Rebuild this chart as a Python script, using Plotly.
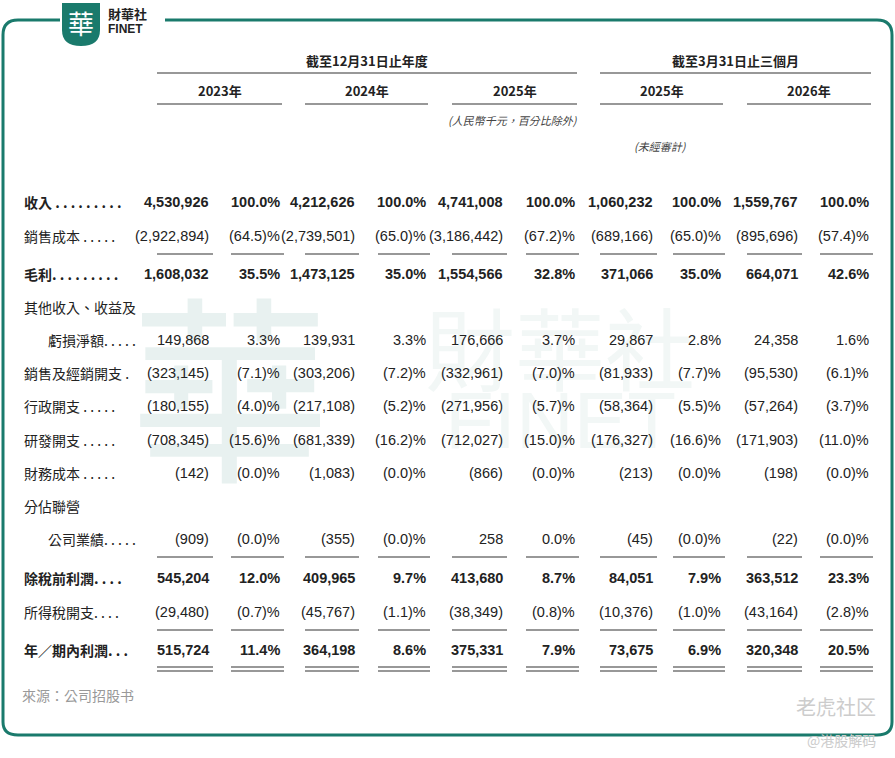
import plotly.graph_objects as go

labels = ["收入 . . . . . . . . .", "銷售成本 . . . . .", "毛利. . . . . . . . .", "其他收入、收益及",
          "虧損淨額. . . . .", "銷售及經銷開支 .", "行政開支 . . . . .", "研發開支 . . . . .",
          "財務成本 . . . . .", "分佔聯營", "公司業績. . . . .", "除稅前利潤. . . .",
          "所得稅開支. . . .", "年／期內利潤. . ."]
indent = [0, 0, 0, 0, 1, 0, 0, 0, 0, 0, 1, 0, 0, 0]
bold = [1, 0, 1, 0, 0, 0, 0, 0, 0, 0, 0, 1, 0, 1]
v2023 = ["4,530,926", "(2,922,894)", "1,608,032", "", "149,868", "(323,145)", "(180,155)", "(708,345)", "(142)", "", "(909)", "545,204", "(29,480)", "515,724"]
p2023 = ["100.0%", "(64.5)%", "35.5%", "", "3.3%", "(7.1)%", "(4.0)%", "(15.6)%", "(0.0)%", "", "(0.0)%", "12.0%", "(0.7)%", "11.4%"]
v2024 = ["4,212,626", "(2,739,501)", "1,473,125", "", "139,931", "(303,206)", "(217,108)", "(681,339)", "(1,083)", "", "(355)", "409,965", "(45,767)", "364,198"]
p2024 = ["100.0%", "(65.0)%", "35.0%", "", "3.3%", "(7.2)%", "(5.2)%", "(16.2)%", "(0.0)%", "", "(0.0)%", "9.7%", "(1.1)%", "8.6%"]
v2025 = ["4,741,008", "(3,186,442)", "1,554,566", "", "176,666", "(332,961)", "(271,956)", "(712,027)", "(866)", "", "258", "413,680", "(38,349)", "375,331"]
p2025 = ["100.0%", "(67.2)%", "32.8%", "", "3.7%", "(7.0)%", "(5.7)%", "(15.0)%", "(0.0)%", "", "0.0%", "8.7%", "(0.8)%", "7.9%"]
v2025q = ["1,060,232", "(689,166)", "371,066", "", "29,867", "(81,933)", "(58,364)", "(176,327)", "(213)", "", "(45)", "84,051", "(10,376)", "73,675"]
p2025q = ["100.0%", "(65.0)%", "35.0%", "", "2.8%", "(7.7)%", "(5.5)%", "(16.6)%", "(0.0)%", "", "(0.0)%", "7.9%", "(1.0)%", "6.9%"]
v2026q = ["1,559,767", "(895,696)", "664,071", "", "24,358", "(95,530)", "(57,264)", "(171,903)", "(198)", "", "(22)", "363,512", "(43,164)", "320,348"]
p2026q = ["100.0%", "(57.4)%", "42.6%", "", "1.6%", "(6.1)%", "(3.7)%", "(11.0)%", "(0.0)%", "", "(0.0)%", "23.3%", "(2.8)%", "20.5%"]
years = ["2023年", "2024年", "2025年", "2025年", "2026年"]
groups = ["截至12月31日止年度", "截至3月31日止三個月"]

F = "Liberation Sans, Arial, sans-serif"
CJK = "Noto Sans CJK TC, sans-serif"
TXT = "#222"
row_y = [202, 236, 274, 307, 340, 373, 406, 440, 473, 506, 539, 578, 612, 650]
col_sets = [v2023, p2023, v2024, p2024, v2025, p2025, v2025q, p2025q, v2026q, p2026q]
col_right = [211, 282, 357, 428, 505, 577, 655, 723, 800, 871]
col_left = [157, 231, 305, 378, 452, 526, 600, 673, 747, 820]

fig = go.Figure()
ann = []
shapes = []

def line(x0, x1, y, w=1.2, c="#333"):
    shapes.append(dict(type="line", x0=x0, x1=x1, y0=y, y1=y, line=dict(color=c, width=w)))

def nfont(size, color=TXT):
    return dict(family=F, size=size, color=color)

shapes.append(dict(type="path", path="M 60 20 L 18 20 Q 3 20 3 35 L 3 722 Q 3 735 18 735 L 877 735 Q 892 735 892 722 L 892 35 Q 892 20 877 20 L 165 20",
                   line=dict(color="#1a7a6c", width=3)))
shapes.append(dict(type="path", path="M 62 3 L 100 3 L 100 30 Q 100 46 81 46 Q 62 46 62 30 Z",
                   fillcolor="#1a7a6c", line=dict(width=0)))
ann.append(dict(x=81, y=22, text="華", font=dict(family=CJK, size=26, color="white"), showarrow=False))
ann.append(dict(x=106, y=13, text="<b>財華社</b>", xanchor="left", font=dict(family=CJK, size=13, color="#222"), showarrow=False))
ann.append(dict(x=106, y=29, text="<b>FINET</b>", xanchor="left", font=dict(family="Liberation Sans", size=12, color="#222"), showarrow=False))
ann.append(dict(x=230, y=380, text="華", font=dict(family=CJK, size=200, color="rgba(26,122,108,0.10)"), showarrow=False))
ann.append(dict(x=560, y=345, text="財華社", font=dict(family=CJK, size=90, color="rgba(26,122,108,0.06)"), showarrow=False))
ann.append(dict(x=560, y=420, text="FINET", font=dict(family="Liberation Sans", size=80, color="rgba(26,122,108,0.06)"), showarrow=False))

for g, (x0, x1) in zip(groups, [(157, 577), (600, 871)]):
    ann.append(dict(x=(x0 + x1) / 2, y=60, text="<b>" + g + "</b>", font=dict(family=CJK, size=13, color=TXT), showarrow=False))
    line(x0, x1, 73)
for i, yv in enumerate(years):
    x0, x1 = col_left[2 * i], col_right[2 * i + 1]
    ann.append(dict(x=(x0 + x1) / 2, y=90, text="<b>" + yv + "</b>", font=dict(family=CJK, size=13, color=TXT), showarrow=False))
    line(x0, x1, 104)
ann.append(dict(x=513, y=120, text="<i>(人民幣千元，百分比除外)</i>", font=dict(family=CJK, size=11, color="#444"), showarrow=False))
ann.append(dict(x=660, y=146, text="<i>(未經審計)</i>", font=dict(family=CJK, size=11, color="#444"), showarrow=False))

for r, lab in enumerate(labels):
    y = row_y[r]
    t = ("<b>" + lab + "</b>") if bold[r] else lab
    ann.append(dict(x=22 + 24 * indent[r], y=y, text=t, xanchor="left", font=dict(family=CJK, size=14, color=TXT), showarrow=False))
    for c, col in enumerate(col_sets):
        if col[r]:
            t = ("<b>" + col[r] + "</b>") if bold[r] else col[r]
            ann.append(dict(x=col_right[c], y=y, text=t, xanchor="right", font=nfont(14.5), showarrow=False))

for c in range(10):
    x0, x1 = col_left[c], col_right[c] + 2
    for yy in (254, 557, 630, 667, 671):
        line(x0, x1, yy)

ann.append(dict(x=20, y=695, text="來源：公司招股书", xanchor="left", font=dict(family=CJK, size=14, color="#999"), showarrow=False))
ann.append(dict(x=878, y=706, text="老虎社区", xanchor="right", font=dict(family=CJK, size=20, color="#ccc"), showarrow=False))
ann.append(dict(x=878, y=740, text="@港股解码", xanchor="right", font=dict(family=CJK, size=14, color="#ccc"), showarrow=False))

fig.update_layout(width=895, height=758, margin=dict(l=0, r=0, t=0, b=0), plot_bgcolor="white", paper_bgcolor="white",
                  xaxis=dict(range=[0, 895], visible=False, fixedrange=True),
                  yaxis=dict(range=[758, 0], visible=False, fixedrange=True),
                  annotations=ann, shapes=shapes, showlegend=False)
fig.write_html("out.html", config={"displayModeBar": False},
               post_script="document.body.style.margin='0';document.body.style.overflow='hidden';")
